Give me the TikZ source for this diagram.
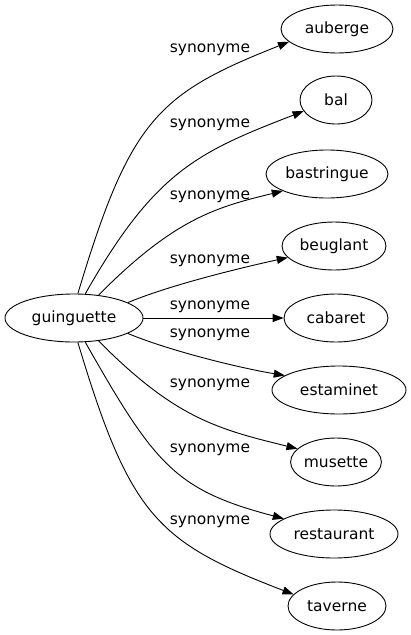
\documentclass[tikz,border=0pt]{standalone}
\usepackage{fontspec}
\setmainfont{DejaVu Sans}
\usetikzlibrary{arrows.meta,shapes.geometric}
\begin{document}
\begin{tikzpicture}[x=1pt,y=-1pt,
  word/.style={draw=black,line width=0.9pt,ellipse,inner sep=0pt,minimum height=48pt,font=\fontsize{15.5}{18}\selectfont},
  lbl/.style={inner sep=0pt,font=\fontsize{15.5}{18}\selectfont},
  edge/.style={draw=black,line width=0.9pt,-{Triangle[length=11pt,width=8pt]}}]
\useasboundingbox (0,0) rectangle (410,635);
\node[word,minimum width=138pt] (g) at (74,318) {guinguette};
\node[word,minimum width=112pt] (auberge) at (337,29) {auberge};
\node[word,minimum width=72pt] (bal) at (336,100) {bal};
\node[word,minimum width=122pt] (bastringue) at (327,174) {bastringue};
\node[word,minimum width=104pt] (beuglant) at (334,246) {beuglant};
\node[word,minimum width=104pt] (cabaret) at (336,318) {cabaret};
\node[word,minimum width=134pt] (estaminet) at (339,390) {estaminet};
\node[word,minimum width=88pt] (musette) at (336,462) {musette};
\node[word,minimum width=128pt] (restaurant) at (334,534) {restaurant};
\node[word,minimum width=98pt] (taverne) at (337,606) {taverne};

\draw[edge] (g.81) .. controls (130,120) and (157,94) .. (auberge.195);
\draw[edge] (g.65) .. controls (155,171) and (198,152) .. (bal.199);
\draw[edge] (g.43) .. controls (175,218) and (217,207) .. (bastringue.201);
\draw[edge] (g.16) .. controls (170,285) and (240,268) .. (beuglant.194);
\draw[edge] (g.east) -- (cabaret.west);
\draw[edge] (g.-16) .. controls (170,351) and (240,368) .. (estaminet.165);
\draw[edge] (g.-43) .. controls (175,418) and (217,429) .. (musette.161);
\draw[edge] (g.-65) .. controls (155,465) and (175,490) .. (restaurant.163);
\draw[edge] (g.-81) .. controls (130,516) and (157,542) .. (taverne.165);

\node[lbl] (l1) at (210,50) {synonyme};
\node[lbl] (l2) at (210,125) {synonyme};
\node[lbl] (l3) at (210,197) {synonyme};
\node[lbl] (l4) at (210,261) {synonyme};
\node[lbl] (l5) at (210,307) {synonyme};
\node[lbl] (l6) at (210,335) {synonyme};
\node[lbl] (l7) at (210,385) {synonyme};
\node[lbl] (l8) at (210,450) {synonyme};
\node[lbl] (l9) at (210,522) {synonyme};
\end{tikzpicture}
\end{document}
